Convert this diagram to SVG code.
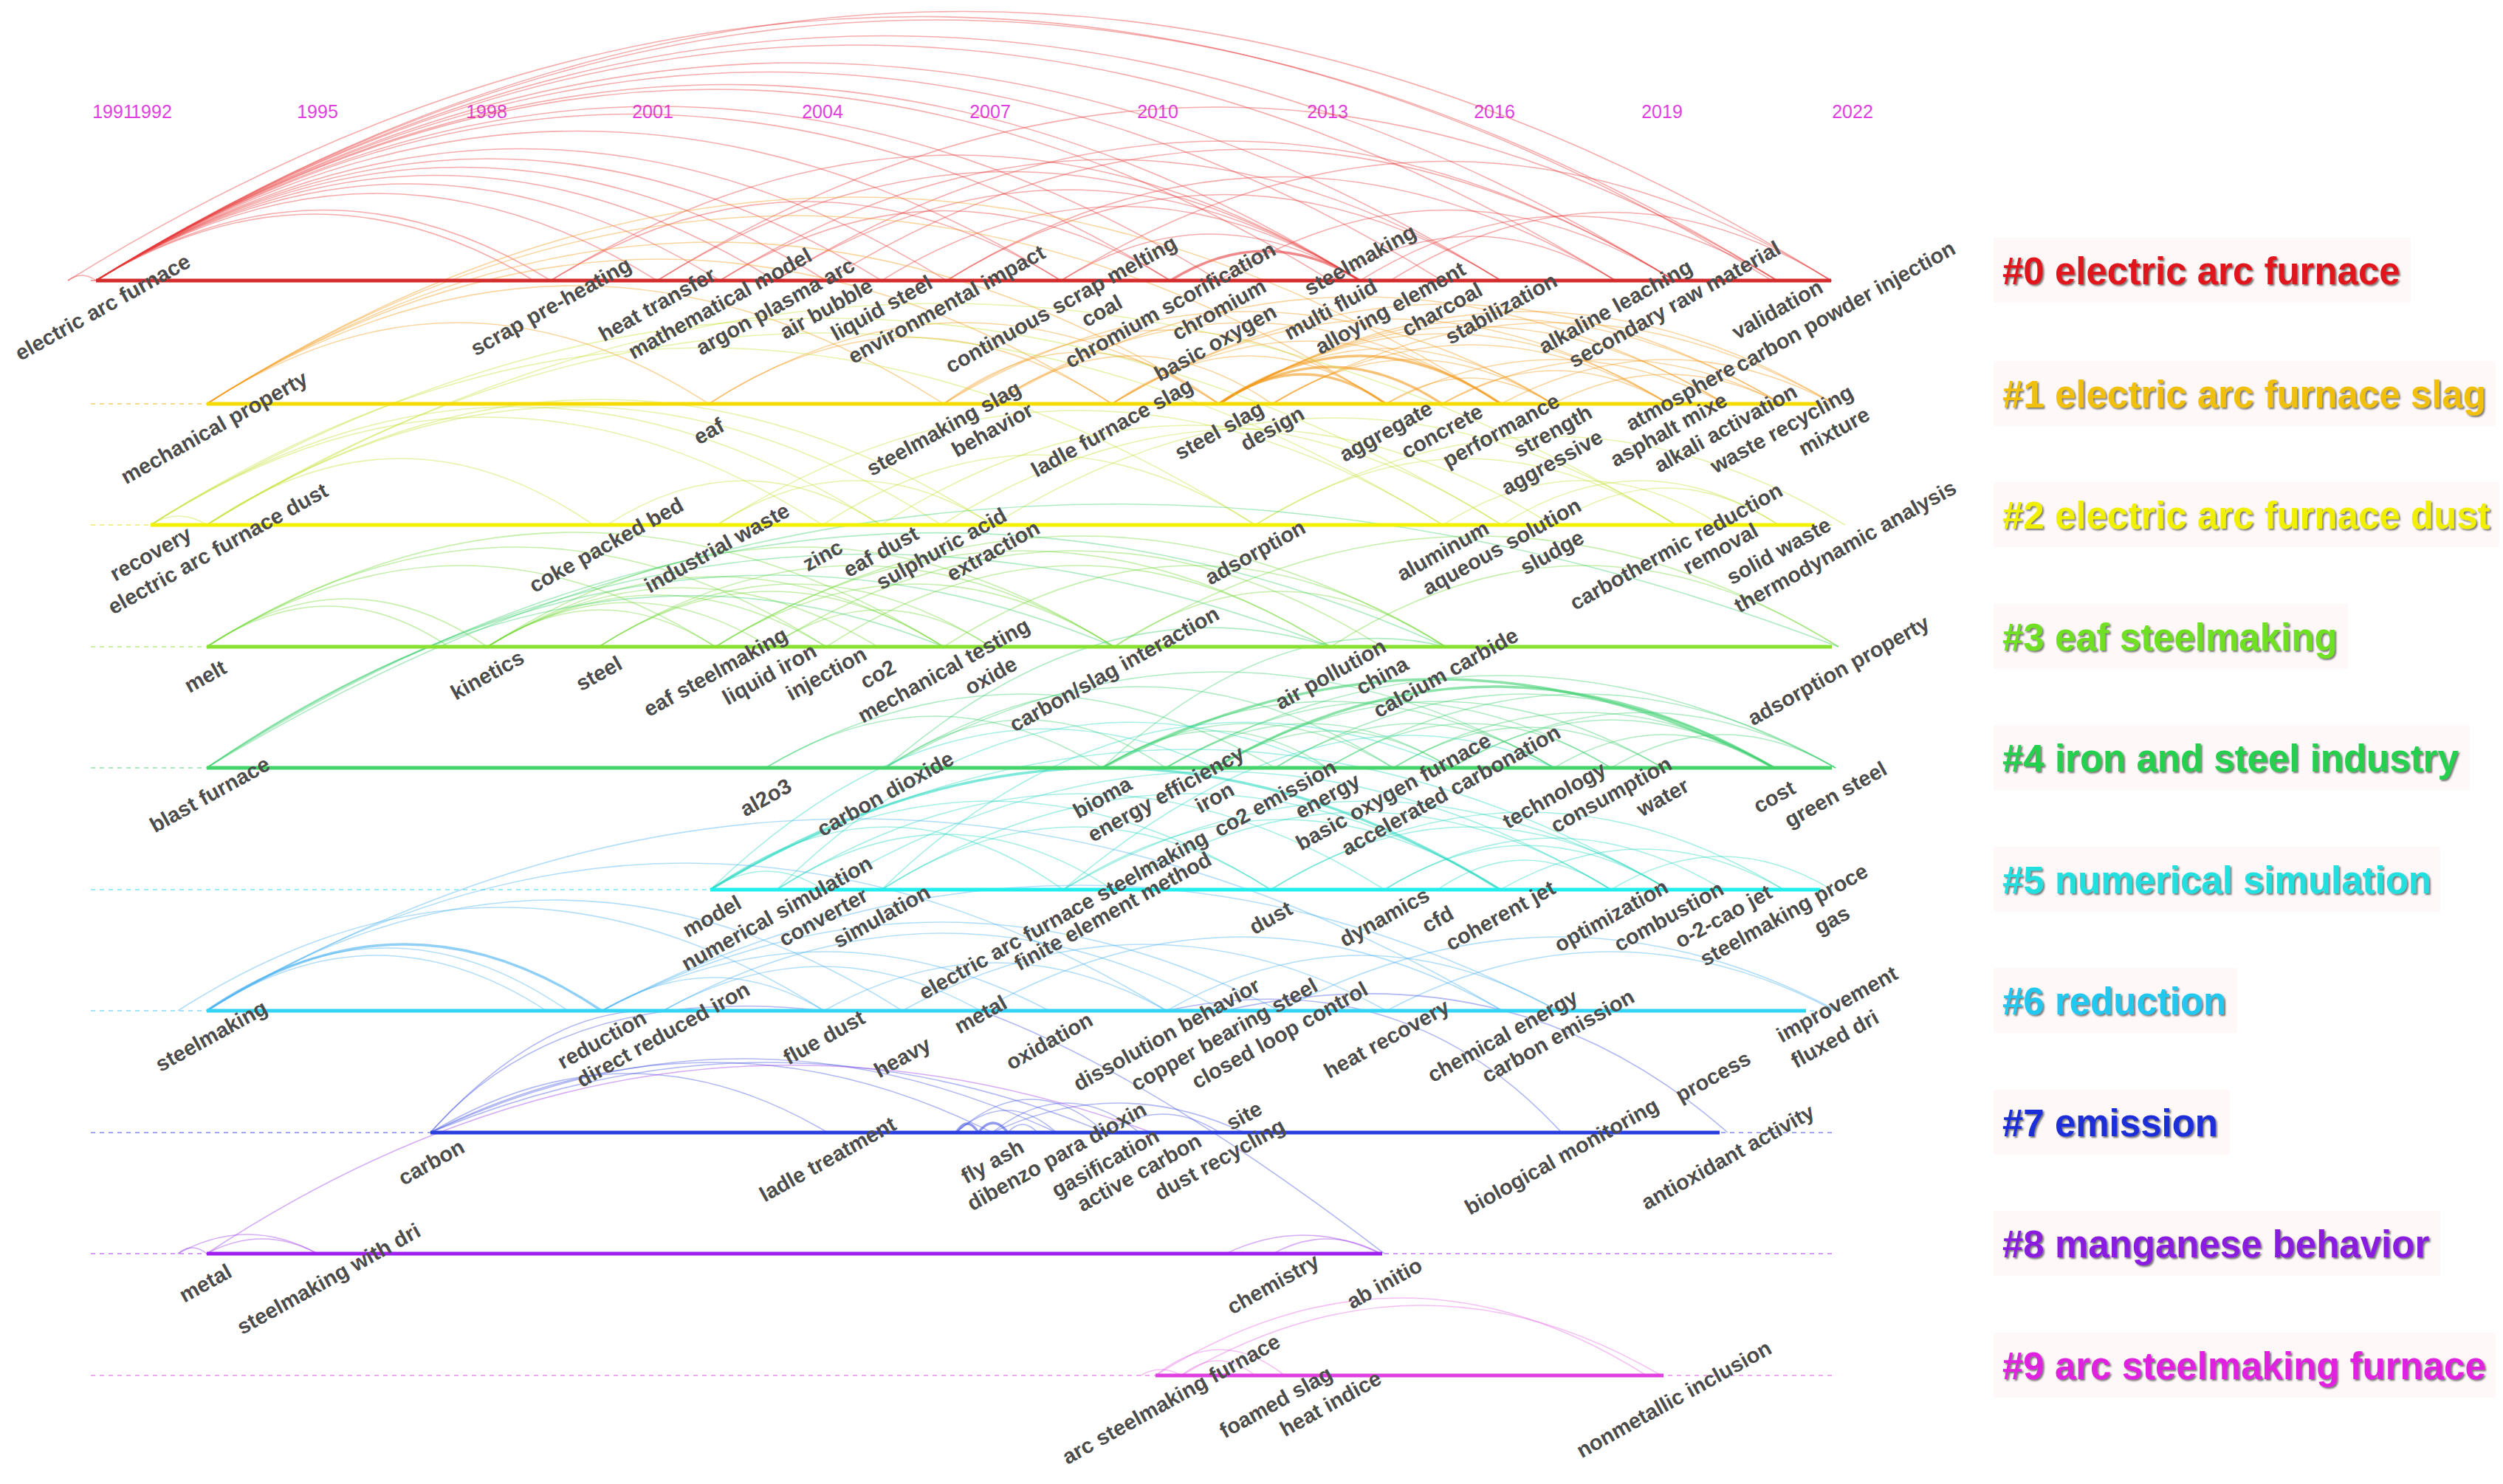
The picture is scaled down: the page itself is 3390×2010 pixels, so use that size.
<svg xmlns="http://www.w3.org/2000/svg" width="3390" height="2010" viewBox="0 0 3390 2010">
<defs>
<style>
.bg{fill:#ffffff}
.yr{font-family:"Liberation Sans",Arial,sans-serif;font-size:25px;fill:#e040e0;text-anchor:middle}
.dash{stroke-width:2;stroke-dasharray:6 6;stroke-opacity:.45}
.lane{stroke-width:5}
#connectors path{fill:none;stroke-width:1.6;stroke-opacity:.42}
#connectors path.t{stroke-width:3.4;stroke-opacity:.6}
.r{stroke:#e63a3a}.o{stroke:#f29a1a}.y{stroke:#c6e23a}.g{stroke:#74d83a}.h{stroke:#3ed070}
.c{stroke:#28d8c0}.s{stroke:#48b0f0}.b{stroke:#4656e0}.p{stroke:#9a3ae8}.k{stroke:#e46ae4}
.node text{font-family:"Liberation Sans",Arial,sans-serif;font-weight:bold;font-size:29px;fill:#4c4c4c;text-anchor:middle;dominant-baseline:central}
.cbg{fill:#fdf0f0;opacity:.45}
.cl{font-family:"Liberation Sans",Arial,sans-serif;font-weight:bold;font-size:51px;filter:url(#sh)}
</style>
<filter id="sh" x="-5%" y="-30%" width="110%" height="160%">
<feDropShadow dx="2" dy="2" stdDeviation="1.2" flood-color="#3a3a3a" flood-opacity="0.7"/>
</filter>
</defs>
<rect class="bg" x="0" y="0" width="3390" height="2010"/>

<g id="years">
<text class="yr" x="153" y="160">1991</text>
<text class="yr" x="205" y="160">1992</text>
<text class="yr" x="430" y="160">1995</text>
<text class="yr" x="659" y="160">1998</text>
<text class="yr" x="884" y="160">2001</text>
<text class="yr" x="1114" y="160">2004</text>
<text class="yr" x="1341" y="160">2007</text>
<text class="yr" x="1568" y="160">2010</text>
<text class="yr" x="1798" y="160">2013</text>
<text class="yr" x="2024" y="160">2016</text>
<text class="yr" x="2251" y="160">2019</text>
<text class="yr" x="2509" y="160">2022</text>
</g>

<g id="lane-guides">
<line class="dash" x1="123" y1="380" x2="2481" y2="380" stroke="#d83030"/>
<line class="dash" x1="123" y1="547" x2="2481" y2="547" stroke="#f0b000"/>
<line class="dash" x1="123" y1="711" x2="2481" y2="711" stroke="#e0e000"/>
<line class="dash" x1="123" y1="876" x2="2481" y2="876" stroke="#88e030"/>
<line class="dash" x1="123" y1="1040" x2="2481" y2="1040" stroke="#44d46a"/>
<line class="dash" x1="123" y1="1205" x2="2481" y2="1205" stroke="#22d8e8"/>
<line class="dash" x1="123" y1="1369" x2="2481" y2="1369" stroke="#33c4f4"/>
<line class="dash" x1="123" y1="1534" x2="2481" y2="1534" stroke="#2a3ee0"/>
<line class="dash" x1="123" y1="1698" x2="2481" y2="1698" stroke="#a020f0"/>
<line class="dash" x1="123" y1="1863" x2="2481" y2="1863" stroke="#e040e0"/>
</g>

<g id="connectors">
<g class="r">
<path d="M130 380Q438 189 746 380"/><path d="M130 380Q426 200 723 380"/><path d="M130 380Q510 144 890 380"/>
<path d="M130 380Q552 118 975 380"/><path d="M130 380Q590 95 1050 380"/><path d="M130 380Q624 73 1119 380"/>
<path d="M130 380Q662 50 1194 380"/><path d="M130 380Q706 23 1282 380"/><path d="M130 380Q784 -25 1437 380"/>
<path d="M130 380Q858 -71 1585 380"/><path d="M130 380Q890 -92 1651 380"/><path d="M130 380Q966 -138 1802 380"/>
<path d="M130 380Q986 -151 1842 380"/><path d="M130 380Q1042 -185 1953 380"/><path d="M130 380Q1082 -210 2033 380"/>
<path d="M130 380Q1159 -258 2188 380"/><path d="M130 380Q1199 -283 2268 380"/><path d="M130 380Q1268 -326 2407 380"/>
<path d="M130 380Q1305 -349 2480 380"/><path d="M92 380Q111 366 130 380"/><path d="M92 380Q1246 -335 2400 380"/>
<path d="M746 380Q1294 40 1842 380"/><path d="M890 380Q1366 85 1842 380"/><path d="M975 380Q1504 52 2033 380"/>
<path d="M1050 380Q1446 134 1842 380"/><path d="M1282 380Q1735 99 2188 380"/><path d="M1437 380Q1640 254 1842 380"/>
<path class="t" d="M1585 380Q1714 300 1842 380"/><path d="M1194 380Q1518 179 1842 380"/><path d="M1651 380Q1960 189 2268 380"/>
<path d="M1842 380Q2125 205 2407 380"/><path d="M1883 380Q2182 195 2480 380"/><path d="M1119 380Q1694 24 2268 380"/>
<path d="M746 380Q1092 166 1437 380"/><path d="M975 380Q1280 191 1585 380"/><path d="M1802 380Q1995 260 2188 380"/>
<path d="M890 380Q1648 -90 2407 380"/><path d="M1050 380Q1659 2 2268 380"/><path d="M1437 380Q1958 57 2480 380"/>
<path d="M1282 380Q1658 147 2033 380"/>
</g>
<g class="o">
<path d="M280 547Q620 327 960 547"/><path d="M280 547Q779 227 1278 547"/><path d="M280 547Q893 155 1506 547"/>
<path d="M280 547Q966 109 1651 547"/><path d="M280 547Q1078 37 1877 547"/><path d="M280 547Q1156 -13 2033 547"/>
<path class="t" d="M1651 547Q1764 467 1877 547"/><path class="t" d="M1651 547Q1802 447 1953 547"/><path class="t" d="M1651 547Q1842 417 2033 547"/>
<path d="M1651 547Q1877 397 2103 547"/><path d="M1651 547Q1956 357 2260 547"/><path d="M1651 547Q1994 337 2337 547"/>
<path d="M1651 547Q2032 317 2413 547"/><path d="M1651 547Q2068 297 2484 547"/><path d="M1506 547Q1692 417 1877 547"/>
<path d="M1506 547Q1770 377 2033 547"/><path d="M1506 547Q1883 317 2260 547"/><path d="M1506 547Q1960 277 2413 547"/>
<path d="M1278 547Q1464 407 1651 547"/><path d="M1278 547Q1578 347 1877 547"/><path d="M1278 547Q1690 297 2103 547"/>
<path d="M1344 547Q1534 417 1723 547"/><path d="M1344 547Q1688 327 2033 547"/><path d="M1344 547Q1840 257 2337 547"/>
<path d="M1723 547Q1913 427 2103 547"/><path d="M1723 547Q1992 387 2260 547"/><path d="M1723 547Q2104 327 2484 547"/>
<path d="M960 547Q1233 367 1506 547"/><path d="M960 547Q1306 327 1651 547"/><path d="M1877 547Q2107 427 2337 547"/>
<path d="M1953 547Q2183 427 2413 547"/><path d="M2033 547Q2259 427 2484 547"/><path d="M2103 547Q2258 467 2413 547"/>
<path d="M1877 547Q1990 477 2103 547"/><path d="M1953 547Q2107 457 2260 547"/>
</g>
<g class="y">
<path d="M204 711Q242 687 280 711"/><path d="M280 711Q542 531 804 711"/><path d="M204 711Q659 419 1114 711"/>
<path d="M204 711Q952 231 1700 711"/><path d="M204 711Q1119 151 2034 711"/><path d="M280 711Q778 391 1275 711"/>
<path d="M280 711Q812 371 1345 711"/><path d="M280 711Q1117 191 1954 711"/><path d="M280 711Q1275 111 2270 711"/>
<path d="M204 711Q698 391 1193 711"/><path d="M1700 711Q1985 531 2270 711"/><path d="M1954 711Q2142 591 2330 711"/>
<path d="M2034 711Q2222 591 2409 711"/><path d="M1700 711Q2100 471 2499 711"/><path d="M1114 711Q1407 521 1700 711"/>
<path d="M1193 711Q1614 441 2034 711"/><path d="M1275 711Q1689 451 2102 711"/><path d="M971 711Q1158 591 1345 711"/>
<path d="M822 711Q1008 591 1193 711"/><path d="M2102 711Q2256 611 2409 711"/><path d="M1345 711Q1808 421 2270 711"/>
<path d="M971 711Q1462 401 1954 711"/>
</g>
<g class="g">
<path d="M280 876Q444 766 608 876"/><path d="M280 876Q470 746 660 876"/><path d="M280 876Q624 656 969 876"/>
<path d="M280 876Q700 606 1119 876"/><path d="M280 876Q779 566 1278 876"/><path d="M660 876Q814 776 969 876"/>
<path d="M660 876Q851 756 1042 876"/><path d="M660 876Q890 736 1119 876"/><path d="M660 876Q924 716 1189 876"/>
<path d="M660 876Q969 686 1278 876"/><path d="M811 876Q1044 726 1278 876"/><path d="M811 876Q1076 706 1342 876"/>
<path d="M811 876Q1160 656 1509 876"/><path d="M969 876Q1239 706 1509 876"/><path d="M969 876Q1385 616 1802 876"/>
<path d="M969 876Q1463 576 1958 876"/><path d="M1042 876Q1192 776 1342 876"/><path d="M1119 876Q1460 656 1802 876"/>
<path d="M1278 876Q1618 656 1958 876"/><path d="M1509 876Q1733 726 1958 876"/><path d="M1509 876Q2000 576 2490 876"/>
<path d="M1802 876Q2146 656 2490 876"/><path d="M1042 876Q1457 616 1872 876"/><path d="M660 876Q1084 606 1509 876"/>
</g>
<g class="h">
<path d="M280 1040Q1120 500 1958 876"/><path d="M280 1040Q1000 560 1802 876"/><path d="M280 1040Q900 620 1509 876"/>
<path d="M280 1040Q800 680 1278 876"/><path d="M280 1040Q1300 420 2490 876"/>
<path d="M1037 1040Q1265 900 1493 1040"/><path d="M1199 1040Q1389 910 1579 1040"/><path d="M1199 1040Q1543 820 1887 1040"/>
<path d="M1493 1040Q1799 860 2105 1040"/><path class="t" d="M1493 1040Q1948 800 2403 1040"/><path d="M1579 1040Q1880 860 2182 1040"/>
<path d="M1579 1040Q2032 790 2486 1040"/><path d="M1645 1040Q1948 860 2252 1040"/><path class="t" d="M1645 1040Q2024 820 2403 1040"/>
<path d="M1727 1040Q1916 920 2105 1040"/><path d="M1727 1040Q2065 840 2403 1040"/><path d="M1798 1040Q1990 920 2182 1040"/>
<path d="M1798 1040Q2142 840 2486 1040"/><path d="M1887 1040Q2070 930 2252 1040"/><path d="M1887 1040Q2145 890 2403 1040"/>
<path d="M1965 1040Q2184 910 2403 1040"/><path d="M1965 1040Q2226 890 2486 1040"/><path d="M2105 1040Q2254 950 2403 1040"/>
<path d="M2182 1040Q2334 950 2486 1040"/><path d="M1493 1040Q1690 920 1887 1040"/><path d="M1579 1040Q1772 920 1965 1040"/>
<path d="M1037 1040Q1382 840 1727 1040"/><path d="M1199 1040Q1652 780 2105 1040"/><path d="M1645 1040Q1805 940 1965 1040"/>
<path d="M1493 1040Q1646 940 1798 1040"/><path d="M1199 1040Q1500 780 1802 876"/><path d="M1493 1040Q1730 820 1958 876"/>
</g>
<g class="c">
<path d="M962 1205Q1201 1035 1440 1205"/><path d="M962 1205Q1342 965 1721 1205"/><path class="t" d="M962 1205Q1497 875 2032 1205"/>
<path d="M962 1205Q1611 825 2260 1205"/><path d="M1052 1205Q1280 1055 1507 1205"/><path d="M1052 1205Q1464 945 1875 1205"/>
<path d="M1115 1205Q1649 885 2182 1205"/><path d="M1194 1205Q1458 1035 1721 1205"/><path d="M1194 1205Q1613 945 2032 1205"/>
<path d="M1440 1205Q1736 1015 2032 1205"/><path d="M1440 1205Q1850 965 2260 1205"/><path d="M1507 1205Q1845 995 2182 1205"/>
<path d="M1721 1205Q1990 1035 2260 1205"/><path d="M1721 1205Q2068 995 2416 1205"/><path d="M1875 1205Q2104 1065 2334 1205"/>
<path d="M1947 1205Q2064 1125 2182 1205"/><path d="M2032 1205Q2224 1095 2416 1205"/><path d="M2182 1205Q2331 1115 2481 1205"/>
<path d="M1875 1205Q2067 1085 2260 1205"/><path d="M962 1205Q1038 1155 1115 1205"/><path d="M962 1205Q1300 880 1645 1040"/>
<path d="M1052 1205Q1400 860 1798 1040"/><path d="M1440 1205Q1800 900 2105 1040"/><path d="M1194 1205Q1550 860 1965 1040"/>
</g>
<g class="s">
<path d="M280 1369Q524 1199 769 1369"/><path class="t" d="M280 1369Q548 1189 815 1369"/><path d="M280 1369Q510 1219 740 1369"/>
<path d="M280 1369Q751 1069 1222 1369"/><path d="M280 1369Q930 969 1580 1369"/><path d="M280 1369Q1158 849 2035 1369"/>
<path d="M241 1369Q678 1089 1116 1369"/><path d="M815 1369Q966 1279 1116 1369"/><path d="M815 1369Q1118 1209 1421 1369"/>
<path d="M815 1369Q1274 1129 1733 1369"/><path d="M898 1369Q1113 1249 1328 1369"/><path d="M898 1369Q1278 1159 1658 1369"/>
<path d="M1116 1369Q1348 1239 1580 1369"/><path d="M1222 1369Q1550 1189 1878 1369"/><path d="M1328 1369Q1682 1169 2035 1369"/>
<path d="M1580 1369Q1845 1219 2110 1369"/><path d="M1733 1369Q2110 1169 2488 1369"/><path d="M1878 1369Q2182 1209 2485 1369"/>
<path d="M815 1369Q1462 1029 2110 1369"/>
</g>
<g class="b">
<path d="M583 1534Q852 1374 1121 1534"/><path d="M583 1534Q964 1344 1344 1534"/><path d="M583 1534Q1007 1334 1431 1534"/>
<path d="M583 1534Q1040 1344 1497 1534"/><path class="t" d="M1295 1534Q1310 1510 1325 1534"/><path class="t" d="M1325 1534Q1345 1508 1365 1534"/>
<path d="M1365 1534Q1385 1512 1405 1534"/><path d="M1295 1534Q1363 1474 1431 1534"/><path d="M1344 1534Q1444 1454 1543 1534"/>
<path d="M1295 1534Q1396 1444 1497 1534"/><path d="M1344 1534Q1514 1454 1685 1534"/><path d="M1497 1534Q1574 1484 1652 1534"/>
<path d="M583 1534Q760 1330 1116 1369"/><path d="M583 1534Q740 1360 898 1369"/><path d="M1580 1369Q1900 1300 2115 1534"/>
<path d="M1658 1369Q2050 1280 2340 1534"/><path d="M1875 1698Q1550 1450 1328 1369"/>
</g>
<g class="p">
<path d="M241 1698Q260 1682 280 1698"/><path d="M241 1698Q335 1646 430 1698"/><path d="M280 1698Q355 1658 430 1698"/>
<path d="M1724 1698Q1797 1658 1870 1698"/><path d="M1660 1698Q1765 1648 1870 1698"/><path d="M280 1698Q900 1290 1560 1534"/>
</g>
<g class="k">
<path d="M1565 1863Q1898 1653 2230 1863"/><path d="M1600 1863Q1925 1673 2250 1863"/><path d="M1565 1863Q1652 1793 1740 1863"/>
<path d="M1600 1863Q1650 1823 1700 1863"/><path d="M1545 1863Q1572 1847 1600 1863"/>
</g>
</g>

<g id="lanes">
<line class="lane" x1="130" y1="380" x2="2480" y2="380" stroke="#d42c2c"/>
<line class="lane" x1="280" y1="547" x2="2463" y2="547" stroke="#f5dc00"/>
<line class="lane" x1="204" y1="711" x2="2458" y2="711" stroke="#f2f200"/>
<line class="lane" x1="280" y1="876" x2="2481" y2="876" stroke="#88e030"/>
<line class="lane" x1="280" y1="1040" x2="2481" y2="1040" stroke="#44d46a"/>
<line class="lane" x1="962" y1="1205" x2="2465" y2="1205" stroke="#22eeee"/>
<line class="lane" x1="280" y1="1369" x2="2446" y2="1369" stroke="#33d4f4"/>
<line class="lane" x1="583" y1="1534" x2="2329" y2="1534" stroke="#2a3ee0"/>
<line class="lane" x1="280" y1="1698" x2="1872" y2="1698" stroke="#a020f0"/>
<line class="lane" x1="1565" y1="1863" x2="2253" y2="1863" stroke="#e040e0"/>
</g>

<g id="nodes" class="node">
<g id="n0-01"><text x="139" y="416" transform="rotate(-29 139 416)">electric arc furnace</text></g>
<g id="n0-02"><text x="746" y="415" transform="rotate(-29 746 415)">scrap pre-heating</text></g>
<g id="n0-03"><text x="890" y="412" transform="rotate(-29 890 412)">heat transfer</text></g>
<g id="n0-04"><text x="975" y="411" transform="rotate(-29 975 411)">mathematical model</text></g>
<g id="n0-05"><text x="1050" y="415" transform="rotate(-29 1050 415)">argon plasma arc</text></g>
<g id="n0-06"><text x="1119" y="418" transform="rotate(-29 1119 418)">air bubble</text></g>
<g id="n0-07"><text x="1194" y="417" transform="rotate(-29 1194 417)">liquid steel</text></g>
<g id="n0-08"><text x="1282" y="412" transform="rotate(-29 1282 412)">environmental impact</text></g>
<g id="n0-09"><text x="1437" y="412" transform="rotate(-29 1437 412)">continuous scrap melting</text></g>
<g id="n0-10"><text x="1492" y="421" transform="rotate(-29 1492 421)">coal</text></g>
<g id="n0-11"><text x="1585" y="413" transform="rotate(-29 1585 413)">chromium scorification</text></g>
<g id="n0-12"><text x="1651" y="419" transform="rotate(-29 1651 419)">chromium</text></g>
<g id="n0-13"><text x="1646" y="464" transform="rotate(-29 1646 464)">basic oxygen</text></g>
<g id="n0-14"><text x="1802" y="419" transform="rotate(-29 1802 419)">multi fluid</text></g>
<g id="n0-15"><text x="1842" y="352" transform="rotate(-29 1842 352)">steelmaking</text></g>
<g id="n0-16"><text x="1883" y="417" transform="rotate(-29 1883 417)">alloying element</text></g>
<g id="n0-17"><text x="1953" y="419" transform="rotate(-29 1953 419)">charcoal</text></g>
<g id="n0-18"><text x="2033" y="418" transform="rotate(-29 2033 418)">stabilization</text></g>
<g id="n0-19"><text x="2188" y="415" transform="rotate(-29 2188 415)">alkaline leaching</text></g>
<g id="n0-20"><text x="2268" y="412" transform="rotate(-29 2268 412)">secondary raw material</text></g>
<g id="n0-21"><text x="2407" y="419" transform="rotate(-29 2407 419)">validation</text></g>
<g id="n0-22"><text x="2499" y="415" transform="rotate(-29 2499 415)">carbon powder injection</text></g>

<g id="n1-01"><text x="290" y="579" transform="rotate(-29 290 579)">mechanical property</text></g>
<g id="n1-02"><text x="960" y="584" transform="rotate(-29 960 584)">eaf</text></g>
<g id="n1-03"><text x="1278" y="580" transform="rotate(-29 1278 580)">steelmaking slag</text></g>
<g id="n1-04"><text x="1344" y="582" transform="rotate(-29 1344 582)">behavior</text></g>
<g id="n1-05"><text x="1506" y="579" transform="rotate(-29 1506 579)">ladle furnace slag</text></g>
<g id="n1-06"><text x="1651" y="583" transform="rotate(-29 1651 583)">steel slag</text></g>
<g id="n1-07"><text x="1723" y="580" transform="rotate(-29 1723 580)">design</text></g>
<g id="n1-08"><text x="1877" y="584" transform="rotate(-29 1877 584)">aggregate</text></g>
<g id="n1-09"><text x="1953" y="584" transform="rotate(-29 1953 584)">concrete</text></g>
<g id="n1-10"><text x="2033" y="583" transform="rotate(-29 2033 583)">performance</text></g>
<g id="n1-11"><text x="2103" y="584" transform="rotate(-29 2103 584)">strength</text></g>
<g id="n1-12"><text x="2102" y="626" transform="rotate(-29 2102 626)">aggressive</text></g>
<g id="n1-13"><text x="2276" y="536" transform="rotate(-29 2276 536)">atmosphere</text></g>
<g id="n1-14"><text x="2260" y="582" transform="rotate(-29 2260 582)">asphalt mixe</text></g>
<g id="n1-15"><text x="2337" y="580" transform="rotate(-29 2337 580)">alkali activation</text></g>
<g id="n1-16"><text x="2413" y="581" transform="rotate(-29 2413 581)">waste recycling</text></g>
<g id="n1-17"><text x="2484" y="584" transform="rotate(-29 2484 584)">mixture</text></g>

<g id="n2-01"><text x="204" y="750" transform="rotate(-29 204 750)">recovery</text></g>
<g id="n2-02"><text x="295" y="743" transform="rotate(-29 295 743)">electric arc furnace dust</text></g>
<g id="n2-03"><text x="821" y="738" transform="rotate(-29 821 738)">coke packed bed</text></g>
<g id="n2-04"><text x="971" y="742" transform="rotate(-29 971 742)">industrial waste</text></g>
<g id="n2-05"><text x="1114" y="752" transform="rotate(-29 1114 752)">zinc</text></g>
<g id="n2-06"><text x="1193" y="747" transform="rotate(-29 1193 747)">eaf dust</text></g>
<g id="n2-07"><text x="1275" y="743" transform="rotate(-29 1275 743)">sulphuric acid</text></g>
<g id="n2-08"><text x="1345" y="746" transform="rotate(-29 1345 746)">extraction</text></g>
<g id="n2-09"><text x="1700" y="748" transform="rotate(-29 1700 748)">adsorption</text></g>
<g id="n2-10"><text x="1954" y="746" transform="rotate(-29 1954 746)">aluminum</text></g>
<g id="n2-11"><text x="2034" y="740" transform="rotate(-29 2034 740)">aqueous solution</text></g>
<g id="n2-12"><text x="2102" y="748" transform="rotate(-29 2102 748)">sludge</text></g>
<g id="n2-13"><text x="2270" y="740" transform="rotate(-29 2270 740)">carbothermic reduction</text></g>
<g id="n2-14"><text x="2330" y="743" transform="rotate(-29 2330 743)">removal</text></g>
<g id="n2-15"><text x="2409" y="746" transform="rotate(-29 2409 746)">solid waste</text></g>
<g id="n2-16"><text x="2499" y="740" transform="rotate(-29 2499 740)">thermodynamic analysis</text></g>

<g id="n3-01"><text x="278" y="916" transform="rotate(-29 278 916)">melt</text></g>
<g id="n3-02"><text x="660" y="914" transform="rotate(-29 660 914)">kinetics</text></g>
<g id="n3-03"><text x="811" y="912" transform="rotate(-29 811 912)">steel</text></g>
<g id="n3-04"><text x="969" y="910" transform="rotate(-29 969 910)">eaf steelmaking</text></g>
<g id="n3-05"><text x="1042" y="913" transform="rotate(-29 1042 913)">liquid iron</text></g>
<g id="n3-06"><text x="1119" y="912" transform="rotate(-29 1119 912)">injection</text></g>
<g id="n3-07"><text x="1189" y="913" transform="rotate(-29 1189 913)">co2</text></g>
<g id="n3-08"><text x="1278" y="908" transform="rotate(-29 1278 908)">mechanical testing</text></g>
<g id="n3-09"><text x="1342" y="915" transform="rotate(-29 1342 915)">oxide</text></g>
<g id="n3-10"><text x="1509" y="906" transform="rotate(-29 1509 906)">carbon/slag interaction</text></g>
<g id="n3-11"><text x="1802" y="913" transform="rotate(-29 1802 913)">air pollution</text></g>
<g id="n3-12"><text x="1872" y="915" transform="rotate(-29 1872 915)">china</text></g>
<g id="n3-13"><text x="1958" y="911" transform="rotate(-29 1958 911)">calcium carbide</text></g>
<g id="n3-14"><text x="2490" y="908" transform="rotate(-29 2490 908)">adsorption property</text></g>

<g id="n4-01"><text x="284" y="1076" transform="rotate(-29 284 1076)">blast furnace</text></g>
<g id="n4-02"><text x="1037" y="1080" transform="rotate(-29 1037 1080)">al2o3</text></g>
<g id="n4-03"><text x="1199" y="1075" transform="rotate(-29 1199 1075)">carbon dioxide</text></g>
<g id="n4-04"><text x="1493" y="1080" transform="rotate(-29 1493 1080)">bioma</text></g>
<g id="n4-05"><text x="1579" y="1075" transform="rotate(-29 1579 1075)">energy efficiency</text></g>
<g id="n4-06"><text x="1645" y="1080" transform="rotate(-29 1645 1080)">iron</text></g>
<g id="n4-07"><text x="1727" y="1081" transform="rotate(-29 1727 1081)">co2 emission</text></g>
<g id="n4-08"><text x="1798" y="1078" transform="rotate(-29 1798 1078)">energy</text></g>
<g id="n4-09"><text x="1887" y="1072" transform="rotate(-29 1887 1072)">basic oxygen furnace</text></g>
<g id="n4-10"><text x="1965" y="1070" transform="rotate(-29 1965 1070)">accelerated carbonation</text></g>
<g id="n4-11"><text x="2105" y="1077" transform="rotate(-29 2105 1077)">technology</text></g>
<g id="n4-12"><text x="2182" y="1076" transform="rotate(-29 2182 1076)">consumption</text></g>
<g id="n4-13"><text x="2252" y="1080" transform="rotate(-29 2252 1080)">water</text></g>
<g id="n4-14"><text x="2403" y="1079" transform="rotate(-29 2403 1079)">cost</text></g>
<g id="n4-15"><text x="2486" y="1076" transform="rotate(-29 2486 1076)">green steel</text></g>

<g id="n5-01"><text x="964" y="1241" transform="rotate(-29 964 1241)">model</text></g>
<g id="n5-02"><text x="1052" y="1237" transform="rotate(-29 1052 1237)">numerical simulation</text></g>
<g id="n5-03"><text x="1115" y="1242" transform="rotate(-29 1115 1242)">converter</text></g>
<g id="n5-04"><text x="1194" y="1241" transform="rotate(-29 1194 1241)">simulation</text></g>
<g id="n5-05"><text x="1440" y="1239" transform="rotate(-29 1440 1239)">electric arc furnace steelmaking</text></g>
<g id="n5-06"><text x="1507" y="1234" transform="rotate(-29 1507 1234)">finite element method</text></g>
<g id="n5-07"><text x="1721" y="1243" transform="rotate(-29 1721 1243)">dust</text></g>
<g id="n5-08"><text x="1875" y="1242" transform="rotate(-29 1875 1242)">dynamics</text></g>
<g id="n5-09"><text x="1947" y="1245" transform="rotate(-29 1947 1245)">cfd</text></g>
<g id="n5-10"><text x="2032" y="1240" transform="rotate(-29 2032 1240)">coherent jet</text></g>
<g id="n5-11"><text x="2182" y="1240" transform="rotate(-29 2182 1240)">optimization</text></g>
<g id="n5-12"><text x="2260" y="1241" transform="rotate(-29 2260 1241)">combustion</text></g>
<g id="n5-13"><text x="2334" y="1241" transform="rotate(-29 2334 1241)">o-2-cao jet</text></g>
<g id="n5-14"><text x="2416" y="1239" transform="rotate(-29 2416 1239)">steelmaking proce</text></g>
<g id="n5-15"><text x="2481" y="1246" transform="rotate(-29 2481 1246)">gas</text></g>

<g id="n6-01"><text x="286" y="1403" transform="rotate(-29 286 1403)">steelmaking</text></g>
<g id="n6-02"><text x="815" y="1408" transform="rotate(-29 815 1408)">reduction</text></g>
<g id="n6-03"><text x="898" y="1401" transform="rotate(-29 898 1401)">direct reduced iron</text></g>
<g id="n6-04"><text x="1116" y="1405" transform="rotate(-29 1116 1405)">flue dust</text></g>
<g id="n6-05"><text x="1222" y="1432" transform="rotate(-29 1222 1432)">heavy</text></g>
<g id="n6-06"><text x="1328" y="1374" transform="rotate(-29 1328 1374)">metal</text></g>
<g id="n6-07"><text x="1421" y="1410" transform="rotate(-29 1421 1410)">oxidation</text></g>
<g id="n6-08"><text x="1580" y="1401" transform="rotate(-29 1580 1401)">dissolution behavior</text></g>
<g id="n6-09"><text x="1658" y="1401" transform="rotate(-29 1658 1401)">copper bearing steel</text></g>
<g id="n6-10"><text x="1733" y="1402" transform="rotate(-29 1733 1402)">closed loop control</text></g>
<g id="n6-11"><text x="1878" y="1407" transform="rotate(-29 1878 1407)">heat recovery</text></g>
<g id="n6-12"><text x="2035" y="1403" transform="rotate(-29 2035 1403)">chemical energy</text></g>
<g id="n6-13"><text x="2110" y="1403" transform="rotate(-29 2110 1403)">carbon emission</text></g>
<g id="n6-14"><text x="2488" y="1360" transform="rotate(-29 2488 1360)">improvement</text></g>
<g id="n6-15"><text x="2485" y="1407" transform="rotate(-29 2485 1407)">fluxed dri</text></g>

<g id="n7-01"><text x="584" y="1574" transform="rotate(-29 584 1574)">carbon</text></g>
<g id="n7-02"><text x="1121" y="1570" transform="rotate(-29 1121 1570)">ladle treatment</text></g>
<g id="n7-03"><text x="1344" y="1573" transform="rotate(-29 1344 1573)">fly ash</text></g>
<g id="n7-04"><text x="1431" y="1566" transform="rotate(-29 1431 1566)">dibenzo para dioxin</text></g>
<g id="n7-05"><text x="1497" y="1575" transform="rotate(-29 1497 1575)">gasification</text></g>
<g id="n7-06"><text x="1543" y="1588" transform="rotate(-29 1543 1588)">active carbon</text></g>
<g id="n7-07"><text x="1685" y="1511" transform="rotate(-29 1685 1511)">site</text></g>
<g id="n7-08"><text x="1652" y="1570" transform="rotate(-29 1652 1570)">dust recycling</text></g>
<g id="n7-09"><text x="2115" y="1566" transform="rotate(-29 2115 1566)">biological monitoring</text></g>
<g id="n7-10"><text x="2320" y="1458" transform="rotate(-29 2320 1458)">process</text></g>
<g id="n7-11"><text x="2340" y="1567" transform="rotate(-29 2340 1567)">antioxidant activity</text></g>

<g id="n8-01"><text x="278" y="1738" transform="rotate(-29 278 1738)">metal</text></g>
<g id="n8-02"><text x="445" y="1732" transform="rotate(-29 445 1732)">steelmaking with dri</text></g>
<g id="n8-03"><text x="1724" y="1739" transform="rotate(-29 1724 1739)">chemistry</text></g>
<g id="n8-04"><text x="1875" y="1738" transform="rotate(-29 1875 1738)">ab initio</text></g>

<g id="n9-01"><text x="1586" y="1895" transform="rotate(-29 1586 1895)">arc steelmaking furnace</text></g>
<g id="n9-02"><text x="1728" y="1899" transform="rotate(-29 1728 1899)">foamed slag</text></g>
<g id="n9-03"><text x="1802" y="1901" transform="rotate(-29 1802 1901)">heat indice</text></g>
<g id="n9-04"><text x="2267" y="1895" transform="rotate(-29 2267 1895)">nonmetallic inclusion</text></g>
</g>

<g id="clusters">
<g id="cluster-0"><rect class="cbg" x="2700" y="322" width="565" height="88"/><text class="cl" x="2712" y="385" fill="#e0141e">#0 electric arc furnace</text></g>
<g id="cluster-1"><rect class="cbg" x="2700" y="489" width="680" height="88"/><text class="cl" x="2712" y="552" fill="#f0c010">#1 electric arc furnace slag</text></g>
<g id="cluster-2"><rect class="cbg" x="2700" y="653" width="685" height="88"/><text class="cl" x="2712" y="716" fill="#f0f000">#2 electric arc furnace dust</text></g>
<g id="cluster-3"><rect class="cbg" x="2700" y="818" width="480" height="88"/><text class="cl" x="2712" y="881" fill="#70e020">#3 eaf steelmaking</text></g>
<g id="cluster-4"><rect class="cbg" x="2700" y="982" width="645" height="88"/><text class="cl" x="2712" y="1045" fill="#28d050">#4 iron and steel industry</text></g>
<g id="cluster-5"><rect class="cbg" x="2700" y="1147" width="605" height="88"/><text class="cl" x="2712" y="1210" fill="#20e0e0">#5 numerical simulation</text></g>
<g id="cluster-6"><rect class="cbg" x="2700" y="1311" width="330" height="88"/><text class="cl" x="2712" y="1374" fill="#20c8f0">#6 reduction</text></g>
<g id="cluster-7"><rect class="cbg" x="2700" y="1476" width="320" height="88"/><text class="cl" x="2712" y="1539" fill="#1a2ed8">#7 emission</text></g>
<g id="cluster-8"><rect class="cbg" x="2700" y="1640" width="605" height="88"/><text class="cl" x="2712" y="1703" fill="#8a1ee0">#8 manganese behavior</text></g>
<g id="cluster-9"><rect class="cbg" x="2700" y="1805" width="680" height="88"/><text class="cl" x="2712" y="1868" fill="#e020e0">#9 arc steelmaking furnace</text></g>
</g>
</svg>
